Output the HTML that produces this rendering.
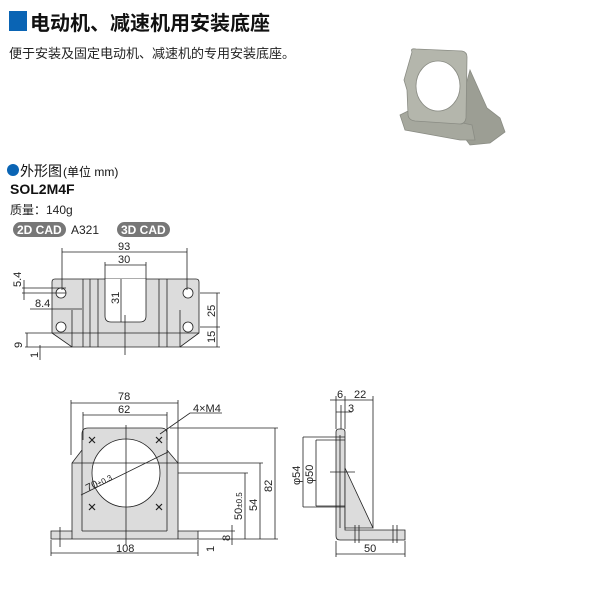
<!DOCTYPE html>
<html><head><meta charset="utf-8"><style>
body{margin:0;width:600px;height:600px;background:#fff;overflow:hidden;font-family:"Liberation Sans","Noto Sans CJK SC",sans-serif}
svg{position:absolute;left:0;top:0}
</style></head><body>
<svg width="600" height="600" viewBox="0 0 600 600" font-family="Liberation Sans, Noto Sans CJK SC, sans-serif">
<rect x="9" y="11" width="18" height="20" fill="#0a64b4"/>
<text x="30" y="30" font-size="20" font-weight="bold" fill="#111">电动机、减速机用安装底座</text>
<text x="9" y="58" font-size="13" fill="#222">便于安装及固定电动机、减速机的专用安装底座。</text>
<!-- photo -->
<g stroke="#8a8c84" stroke-width="0.8">
<path d="M470 70 L487 108 L500 118 L505 132 L490 143 L470 145 L455 125 Z" fill="#9c9e94"/>
<path d="M400 115 L405 130 L460 140 L475 140 L472 125 L440 118 L410 110 Z" fill="#a6a89e"/>
<path d="M412 52 Q410 48 416 49 L462 51 Q467 52 467 57 L466 118 Q465 124 460 124 L415 121 Q408 120 408 114 L407 90 L404 80 Z" fill="#b4b6ac"/>
<ellipse cx="438" cy="86" rx="22" ry="25" fill="#fff"/>
</g>
<circle cx="13" cy="170" r="6" fill="#0a64b4"/>
<text x="20" y="176" font-size="14" fill="#111">外形图</text><text x="63" y="176" font-size="12" fill="#111">(单位 mm)</text>
<text x="10" y="194" font-size="14" font-weight="bold" fill="#111">SOL2M4F</text>
<text x="10" y="214" font-size="12" fill="#222">质量：140g</text>
<rect x="13" y="222" width="53" height="15" rx="7.5" fill="#777"/><text x="17" y="234" font-size="12" font-weight="bold" fill="#fff">2D CAD</text>
<text x="71" y="234" font-size="12" fill="#222">A321</text>
<rect x="117" y="222" width="53" height="15" rx="7.5" fill="#777"/><text x="121" y="234" font-size="12" font-weight="bold" fill="#fff">3D CAD</text>

<g stroke="#222" stroke-width="0.8" fill="none" font-size="11">
<path d="M55 279 H196 Q199 279 199 282 V333 L180 347 H72 L52 333 V282 Q52 279 55 279 Z" fill="#dcdcdc"/>
<path d="M105 279 V316 Q105 322 111 322 H140 Q146 322 146 316 V279" fill="#fff"/>
<path d="M83 279 V347 M90 279 V347 M98 279 V347 M159 279 V347 M167 279 V347 M72 310 V347 M180 310 V347 M52 333 H199"/>
<g fill="#fff"><circle cx="61" cy="293" r="5"/><circle cx="61" cy="327" r="5"/><circle cx="188" cy="293" r="5"/><circle cx="188" cy="327" r="5"/></g>
<path d="M62 248 V290 M187 248 V290 M62 252 H187 M105 262 V279 M146 262 V279 M105 265 H146 M121 279 V322 M125 315 V355 M200 293 H220 M200 327 H220 M180 347 H220 M217 293 V347 M22 293 H66 M22 288 H66 M24 280 V300 M30 309 H82 M25 333 H52 M25 347 H72 M27 333 V347 M40 345 V360"/>
</g>
<g font-size="11" fill="#222">
<text x="118" y="250">93</text><text x="118" y="263">30</text>
<text transform="translate(119,304) rotate(-90)">31</text>
<text transform="translate(21,287) rotate(-90)">5.4</text>
<text x="35" y="307">8.4</text>
<text transform="translate(215,317) rotate(-90)">25</text>
<text transform="translate(215,343) rotate(-90)">15</text>
<text transform="translate(22,348) rotate(-90)">9</text>
<text transform="translate(38,358) rotate(-90)">1</text>
</g>

<g stroke="#222" stroke-width="0.8" fill="none">
<path d="M51 531 H72 V463 L82 450 V434 Q82 428 88 428 H161 Q167 428 167 434 V450 L178 463 V531 H198 V539 H51 Z" fill="#dcdcdc"/>
<circle cx="126" cy="473" r="34" fill="#fff"/>
<path d="M82 450 V531 M167 450 V531 M82 531 H167 M72 463 H178 M72 531 V539 M178 531 V539"/>
<g stroke-width="1.2"><path d="M89 437 l6 6 m0 -6 l-6 6 M156 437 l6 6 m0 -6 l-6 6 M89 504 l6 6 m0 -6 l-6 6 M156 504 l6 6 m0 -6 l-6 6"/></g>
<path d="M126 425 V545 M71 400 V455 M178 400 V463 M71 403 H178 M83 412 V440 M167 412 V440 M83 415 H167 M81 495 L168 452 M160 434 L190 413 H222 M170 428 H278 M178 463 H263 M178 473 H248 M198 531 H235 M198 539 H278 M275 428 V539 M260 463 V539 M245 473 V539 M232 525 V545 M51 540 V556 M198 540 V556 M51 553 H198 M60 527 V547"/>
</g>
<g font-size="11" fill="#222">
<text x="118" y="400">78</text><text x="118" y="413">62</text>
<text x="193" y="412">4×M4</text>
<text transform="translate(88,492) rotate(-27)">70<tspan font-size="8">±0.3</tspan></text>
<text x="116" y="552">108</text>
<text transform="translate(272,492) rotate(-90)">82</text>
<text transform="translate(257,511) rotate(-90)">54</text>
<text transform="translate(242,520) rotate(-90)">50<tspan font-size="8">±0.5</tspan></text>
<text transform="translate(230,541) rotate(-90)">8</text>
<text transform="translate(214,552) rotate(-90)">1</text>
</g>

<g stroke="#222" stroke-width="0.8" fill="none">
<path d="M336 432 Q336 429 339 429 H342 Q345 429 345 432 V530 H405 V540 H340 Q336 540 336 536 Z" fill="#dcdcdc"/>
<path d="M345 468 L373 528 H345 Z" fill="#dcdcdc"/>
<path d="M340 435 V528 M336 396 V429 M345 396 V429 M341 405 V429 M373 396 V528 M330 400 H373 M336 412 H352 M303 437 H345 M316 440 H345 M303 507 H345 M316 506 H345 M303 437 V507 M316 440 V506 M330 472 H355 M355 525 V543 M359 525 V543 M393 525 V543 M397 525 V543 M336 541 V557 M405 541 V557 M336 554 H405"/>
</g>
<g font-size="11" fill="#222">
<text x="337" y="398">6</text><text x="354" y="398">22</text><text x="348" y="412">3</text>
<text transform="translate(300,485) rotate(-90)">φ54</text>
<text transform="translate(313,484) rotate(-90)">φ50</text>
<text x="364" y="552">50</text>
</g>
</svg>
</body></html>
